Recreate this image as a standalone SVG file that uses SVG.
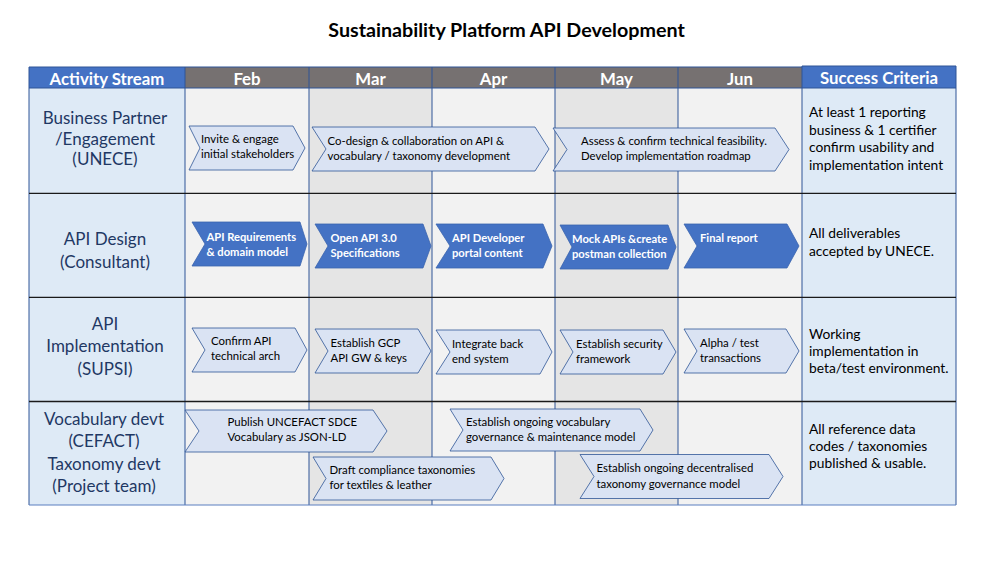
<svg xmlns="http://www.w3.org/2000/svg" width="1000" height="563" viewBox="0 0 1000 563">
<style>
.title{font-family:Lato,"Liberation Sans",sans-serif;font-weight:bold;font-size:19.7px;fill:#000}
.hdr{font-family:Lato,"Liberation Sans",sans-serif;font-weight:bold;font-size:16.8px;fill:#fff}
.stream{font-family:Lato,"Liberation Sans",sans-serif;font-size:17px;fill:#1f3864;text-anchor:middle}
.crit{font-family:Lato,"Liberation Sans",sans-serif;font-size:13.8px;fill:#000}
.lt{fill:#dae3f3;stroke:#2f5597;stroke-width:0.8}
.dk{fill:#4472c4;stroke:#3b64ae;stroke-width:0.8}
.lbl{font-family:Lato,"Liberation Sans",sans-serif;font-size:11.4px;fill:#000}
.lblw{font-family:Lato,"Liberation Sans",sans-serif;font-size:11.2px;fill:#fff;font-weight:bold}
.col{stroke:#2f5597;stroke-width:1}
.row{stroke:#1a1a1a;stroke-width:1.3}
</style>
<rect width="1000" height="563" fill="#fff"/>
<text class="title" x="506.5" y="37" text-anchor="middle">Sustainability Platform API Development</text>

<g id="grid">
  <rect x="29" y="88" width="156" height="417" fill="#deeaf6"/>
  <rect x="185" y="88" width="124" height="417" fill="#f2f2f2"/>
  <rect x="309" y="88" width="123" height="417" fill="#e5e5e5"/>
  <rect x="432" y="88" width="123" height="417" fill="#f2f2f2"/>
  <rect x="555" y="88" width="123" height="417" fill="#e5e5e5"/>
  <rect x="678" y="88" width="124" height="417" fill="#f2f2f2"/>
  <rect x="802" y="88" width="154" height="417" fill="#deeaf6"/>
  <rect x="29" y="67" width="156" height="21" fill="#4472c4"/>
  <rect x="185" y="67" width="617" height="21" fill="#767171"/>
  <rect x="802" y="66" width="154" height="22" fill="#4472c4"/>
  <g class="col">
    <line x1="29" y1="67" x2="29" y2="505"/>
    <line x1="185" y1="67" x2="185" y2="505"/>
    <line x1="309" y1="67" x2="309" y2="505"/>
    <line x1="432" y1="67" x2="432" y2="505"/>
    <line x1="555" y1="67" x2="555" y2="505"/>
    <line x1="678" y1="67" x2="678" y2="505"/>
    <line x1="802" y1="66" x2="802" y2="505"/>
    <line x1="956" y1="66" x2="956" y2="505"/>
    <line x1="29" y1="67" x2="802" y2="67"/>
    <line x1="802" y1="66" x2="956" y2="66"/>
    <line x1="29" y1="88" x2="956" y2="88"/>
    <line x1="29" y1="505" x2="956" y2="505" stroke="#5b7fc0"/>
  </g>
  <g class="row">
    <line x1="29" y1="193.3" x2="956" y2="193.3"/>
    <line x1="29" y1="297.3" x2="956" y2="297.3"/>
    <line x1="29" y1="401.5" x2="956" y2="401.5"/>
  </g>
  <text class="hdr" x="107" y="84.5" text-anchor="middle">Activity Stream</text>
  <text class="hdr" x="247" y="84.5" text-anchor="middle">Feb</text>
  <text class="hdr" x="370.5" y="84.5" text-anchor="middle">Mar</text>
  <text class="hdr" x="493.5" y="84.5" text-anchor="middle">Apr</text>
  <text class="hdr" x="616.5" y="84.5" text-anchor="middle">May</text>
  <text class="hdr" x="740" y="84.5" text-anchor="middle">Jun</text>
  <text class="hdr" x="879" y="83.5" text-anchor="middle">Success Criteria</text>
</g>

<g id="stream-labels">
  <text class="stream" x="105" y="124">Business Partner</text>
  <text class="stream" x="105" y="144.5">/Engagement</text>
  <text class="stream" x="105" y="165">(UNECE)</text>
  <text class="stream" x="105" y="245">API Design</text>
  <text class="stream" x="105" y="268">(Consultant)</text>
  <text class="stream" x="105" y="330">API</text>
  <text class="stream" x="105" y="352">Implementation</text>
  <text class="stream" x="105" y="375">(SUPSI)</text>
  <text class="stream" x="104" y="425">Vocabulary devt</text>
  <text class="stream" x="104" y="447">(CEFACT)</text>
  <text class="stream" x="104" y="470">Taxonomy devt</text>
  <text class="stream" x="104" y="492">(Project team)</text>
</g>

<g id="criteria">
  <text class="crit" x="809" y="117">At least 1 reporting</text>
  <text class="crit" x="809" y="134.5">business &amp; 1 certifier</text>
  <text class="crit" x="809" y="152">confirm usability and</text>
  <text class="crit" x="809" y="169.5">implementation intent</text>
  <text class="crit" x="809" y="238">All deliverables</text>
  <text class="crit" x="809" y="255.5">accepted by UNECE.</text>
  <text class="crit" x="809" y="338.5">Working</text>
  <text class="crit" x="809" y="355.5">implementation in</text>
  <text class="crit" x="809" y="372.5">beta/test environment.</text>
  <text class="crit" x="809" y="433.5">All reference data</text>
  <text class="crit" x="809" y="450.5">codes / taxonomies</text>
  <text class="crit" x="809" y="468">published &amp; usable.</text>
</g>

<g id="task-invite">
  <polygon class="lt" points="189,126 293,126 305,148 293,170 189,170 200,148"/>
  <text class="lbl" x="201" y="143.3">Invite &amp; engage</text>
  <text class="lbl" x="201" y="158.3">initial stakeholders</text>
</g>
<g id="task-codesign">
  <polygon class="lt" points="312,127 535,127 549,149 535,171 312,171 326,149"/>
  <text class="lbl" x="327.5" y="145">Co-design &amp; collaboration on API &amp;</text>
  <text class="lbl" x="327.5" y="160">vocabulary / taxonomy development</text>
</g>
<g id="task-assess">
  <polygon class="lt" points="553,128 775,128 789,149.5 775,171 553,171 567,149.5"/>
  <text class="lbl" x="581" y="145">Assess &amp; confirm technical feasibility.</text>
  <text class="lbl" x="581" y="160">Develop implementation roadmap</text>
</g>

<g id="task-requirements">
  <polygon class="dk" points="192,222 300,222 307,244 300,266 192,266 205,244"/>
  <text class="lblw" x="206.5" y="241">API Requirements</text>
  <text class="lblw" x="206.5" y="255.7">&amp; domain model</text>
</g>
<g id="task-openapi">
  <polygon class="dk" points="315,224 423,224 431,246 423,268 315,268 328,246"/>
  <text class="lblw" x="330.5" y="241.5">Open API 3.0</text>
  <text class="lblw" x="330.5" y="256.5">Specifications</text>
</g>
<g id="task-portal">
  <polygon class="dk" points="436,224 543,224 552,246 543,268 436,268 450,246"/>
  <text class="lblw" x="452" y="242">API Developer</text>
  <text class="lblw" x="452" y="257">portal content</text>
</g>
<g id="task-mock">
  <polygon class="dk" points="560,225 668,225 676,247 668,269 560,269 572,247"/>
  <text class="lblw" x="572" y="242.5">Mock APIs &amp;create</text>
  <text class="lblw" x="572" y="257.5">postman collection</text>
</g>
<g id="task-final">
  <polygon class="dk" points="684,224 787,224 799,246 787,268 684,268 697,246"/>
  <text class="lblw" x="700" y="241.7">Final report</text>
</g>

<g id="task-confirm">
  <polygon class="lt" points="192,328 295,328 307,350 295,372 192,372 205,350"/>
  <text class="lbl" x="211" y="345">Confirm API</text>
  <text class="lbl" x="211" y="360">technical arch</text>
</g>
<g id="task-gcp">
  <polygon class="lt" points="315,329 418,329 431,351 418,373 315,373 328,351"/>
  <text class="lbl" x="330.5" y="346.7">Establish GCP</text>
  <text class="lbl" x="330.5" y="361.7">API GW &amp; keys</text>
</g>
<g id="task-integrate">
  <polygon class="lt" points="436,330 540,330 552,352 540,374 436,374 450,352"/>
  <text class="lbl" x="452" y="347.5">Integrate back</text>
  <text class="lbl" x="452" y="362.5">end system</text>
</g>
<g id="task-security">
  <polygon class="lt" points="560,330 663,330 676,352 663,374 560,374 573,352"/>
  <text class="lbl" x="576" y="347.5">Establish security</text>
  <text class="lbl" x="576" y="362.5">framework</text>
</g>
<g id="task-alpha">
  <polygon class="lt" points="684,329 786,329 799,351 786,373 684,373 697,351"/>
  <text class="lbl" x="700" y="346.7">Alpha / test</text>
  <text class="lbl" x="700" y="361.7">transactions</text>
</g>

<g id="task-publish">
  <polygon class="lt" points="185,410 373,410 387,431 373,452 185,452 199,431"/>
  <text class="lbl" x="227.5" y="426">Publish UNCEFACT SDCE</text>
  <text class="lbl" x="227.5" y="441">Vocabulary as JSON-LD</text>
</g>
<g id="task-vocab-gov">
  <polygon class="lt" points="450,409 640,409 653,430 640,451 450,451 463,430"/>
  <text class="lbl" x="466" y="425.5">Establish ongoing vocabulary</text>
  <text class="lbl" x="466" y="440.5">governance &amp; maintenance model</text>
</g>
<g id="task-draft">
  <polygon class="lt" points="313,457 491,457 504,478.5 491,500 313,500 326,478.5"/>
  <text class="lbl" x="329.5" y="473.5">Draft compliance taxonomies</text>
  <text class="lbl" x="329.5" y="488.5">for textiles &amp; leather</text>
</g>
<g id="task-tax-gov">
  <polygon class="lt" points="580,454.5 769,454.5 783,476.5 769,498.5 580,498.5 594,476.5"/>
  <text class="lbl" x="596.5" y="472">Establish ongoing decentralised</text>
  <text class="lbl" x="596.5" y="487.5">taxonomy governance model</text>
</g>
<g id="connectors"></g>
</svg>
